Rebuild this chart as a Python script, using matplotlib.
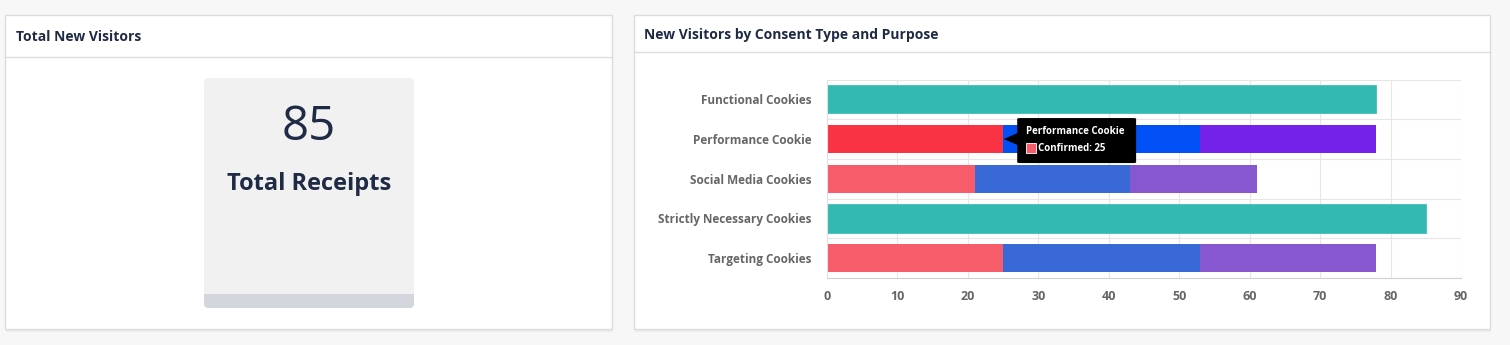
import matplotlib.pyplot as plt
import numpy as np
from matplotlib.patches import Rectangle, FancyBboxPatch, Polygon

plt.rcParams['font.family'] = ['Open Sans', 'DejaVu Sans']

# data
categories = ['Functional Cookies', 'Performance Cookie', 'Social Media Cookies',
              'Strictly Necessary Cookies', 'Targeting Cookies']
confirmed = [0, 25, 21, 0, 25]
implied = [0, 28, 22, 0, 28]
declined = [0, 25, 18, 0, 25]
always_on = [78, 0, 0, 85, 0]
total_visitors = 85
x_ticks = [0, 10, 20, 30, 40, 50, 60, 70, 80, 90]

W, H = 1510, 345
fig = plt.figure(figsize=(W / 100, H / 100), dpi=100, facecolor='#F7F7F7')


def fx(x):
    return x / W


def fy(y):
    return 1 - y / H


def card(x0, y0, x1, y1):
    # soft shadow then white card
    fig.patches.append(Rectangle((fx(x0 + 1), fy(y1 + 3)), fx(x1 - x0), (y1 - y0) / H,
                                 transform=fig.transFigure, facecolor='#ECECEC',
                                 edgecolor='none', zorder=0))
    fig.patches.append(Rectangle((fx(x0), fy(y1)), fx(x1 - x0), (y1 - y0) / H,
                                 transform=fig.transFigure, facecolor='white',
                                 edgecolor='#DCDCDC', linewidth=1, zorder=1))


dark = '#1F2A44'

# left card
card(5, 15, 612, 329)
fig.add_artist(plt.Line2D([fx(5), fx(612)], [fy(57), fy(57)], color='#DCDCDC', lw=1,
                          transform=fig.transFigure, zorder=2))
fig.text(fx(16), fy(37), 'Total New Visitors', fontsize=10, fontweight='bold',
         color=dark, va='center', ha='left')

tile = FancyBboxPatch((fx(204), fy(308)), fx(210), 230 / H,
                      boxstyle='round,pad=0,rounding_size=0.003', mutation_aspect=W / H,
                      transform=fig.transFigure, facecolor='#F1F1F2',
                      edgecolor='none', zorder=2)
fig.patches.append(tile)
fig.patches.append(FancyBboxPatch((fx(204), fy(308)), fx(210), 14 / H,
                                  boxstyle='round,pad=0,rounding_size=0.003',
                                  mutation_aspect=W / H,
                                  transform=fig.transFigure, facecolor='#D3D6DC',
                                  edgecolor='none', zorder=3))
fig.patches.append(Rectangle((fx(204), fy(302)), fx(210), 8 / H,
                             transform=fig.transFigure, facecolor='#D3D6DC',
                             edgecolor='none', zorder=3))
fig.text(fx(309), fy(127), str(total_visitors), fontsize=34, color=dark,
         ha='center', va='center', zorder=4)
fig.text(fx(309), fy(184), 'Total Receipts', fontsize=17, fontweight='bold',
         color=dark, ha='center', va='center', zorder=4)

# right card
card(634, 15, 1490, 329)
fig.add_artist(plt.Line2D([fx(634), fx(1490)], [fy(52), fy(52)], color='#DCDCDC', lw=1,
                          transform=fig.transFigure, zorder=2))
fig.text(fx(644), fy(35), 'New Visitors by Consent Type and Purpose', fontsize=10,
         fontweight='bold', color=dark, va='center', ha='left')

ax = fig.add_axes([fx(827), fy(278), fx(1461 - 827), (278 - 79.5) / H], zorder=5)
ax.set_facecolor('none')

y = np.arange(len(categories))
bh = 0.71
normal = ['#F75C6A', '#3869D6', '#8757D0']
hover = ['#FA3344', '#0050F5', '#7422EA']
hover_row = 1

c_cols = [hover[0] if i == hover_row else normal[0] for i in y]
i_cols = [hover[1] if i == hover_row else normal[1] for i in y]
d_cols = [hover[2] if i == hover_row else normal[2] for i in y]

left = np.zeros(len(categories))
ax.barh(y, always_on, height=bh, color='#33B9B1', edgecolor='#33B9B1', lw=0.5, left=left)
ax.barh(y, confirmed, height=bh, color=c_cols, left=left, lw=0)
left = left + np.array(confirmed)
ax.barh(y, implied, height=bh, color=i_cols, left=left, lw=0)
left = left + np.array(implied)
ax.barh(y, declined, height=bh, color=d_cols, left=left, lw=0)

ax.set_xlim(0, 90)
ax.set_ylim(len(categories) - 0.5, -0.5)
ax.set_xticks(x_ticks)
ax.set_xticklabels([str(t) for t in x_ticks], fontsize=9, fontweight='bold', color='#666666')
ax.set_yticks(y)
ax.set_yticklabels(categories, fontsize=8.5, fontweight='bold', color='#666666')
ax.set_yticks(np.arange(len(categories) + 1) - 0.5, minor=True)
ax.tick_params(axis='both', which='both', length=0)
ax.tick_params(axis='x', pad=9)
ax.tick_params(axis='y', pad=11)
ax.grid(axis='x', color='#E6E6E6', lw=0.8)
ax.grid(axis='y', which='minor', color='#E6E6E6', lw=0.8)
ax.set_axisbelow(True)
for s in ['top', 'right']:
    ax.spines[s].set_visible(False)
ax.spines['left'].set_color('#E0E0E0')
ax.spines['bottom'].set_color('#D0D0D0')

# tooltip on the hovered segment
px = 90 / (1461 - 827)
row = (278 - 79.5) / 5
ax_x = confirmed[hover_row]
tip_x0 = ax_x + (1016 - 1004) * px + 0.3
tip_x1 = ax_x + (1137 - 1004) * px
tip_y0 = hover_row - 21 / row
tip_y1 = hover_row + 24 / row
box = FancyBboxPatch((tip_x0, tip_y0), tip_x1 - tip_x0, tip_y1 - tip_y0,
                     boxstyle='round,pad=0,rounding_size=0.4', mutation_aspect=0.05,
                     facecolor='black', edgecolor='none', zorder=10, clip_on=False)
ax.add_patch(box)
ax.add_patch(Polygon([[ax_x + 0.1, hover_row], [tip_x0 + 0.05, hover_row - 6 / row],
                      [tip_x0 + 0.05, hover_row + 6 / row]],
                     closed=True, facecolor='black', edgecolor='none', zorder=10, clip_on=False))
ax.text(tip_x0 + 9 * px, hover_row - 8 / row, categories[hover_row], color='white',
        fontsize=7, fontweight='bold', va='center', ha='left', zorder=11)
ax.add_patch(Rectangle((tip_x0 + 9 * px, hover_row + 4 / row), 10 * px, 10 / row,
                       facecolor=normal[0], edgecolor='white', lw=0.6, zorder=11))
ax.text(tip_x0 + 21 * px, hover_row + 9 / row, f'Confirmed: {confirmed[hover_row]}',
        color='white', fontsize=7, fontweight='bold', va='center', ha='left', zorder=11)

fig.savefig('out.png', dpi=100, facecolor=fig.get_facecolor())
